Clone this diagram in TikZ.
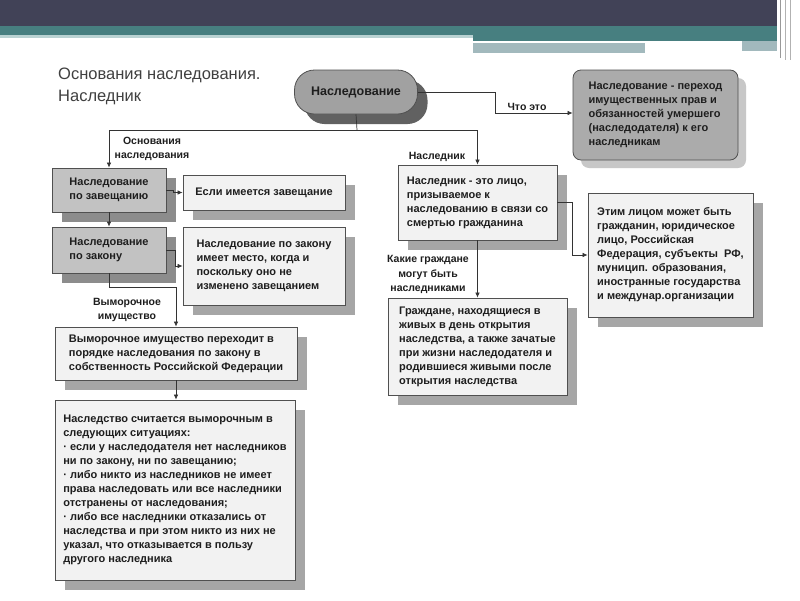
\documentclass[tikz,border=0pt]{standalone}
\usepackage{fontspec}
\setmainfont{Liberation Sans}
\usetikzlibrary{arrows.meta,shadows}
\definecolor{hdark}{HTML}{414257}
\definecolor{hteal}{HTML}{477F80}
\definecolor{hpale}{HTML}{B9D2D2}
\definecolor{hgray}{HTML}{A2B9BD}
\definecolor{ink}{HTML}{1E1E1E}
\definecolor{edge}{HTML}{505050}
\tikzset{
  x=1pt,y=-1pt,
  boxtext/.style={font=\fontsize{11}{14}\selectfont\bfseries, text=ink, align=left},
  lightbox/.style={boxtext, draw=edge, line width=0.8pt, fill=black!5, inner sep=4pt,
    general shadow={fill=black!35, shadow xshift=10pt, shadow yshift=-10pt}},
  graybox/.style={boxtext, draw=edge, line width=0.8pt, fill=black!24, inner sep=4pt,
    general shadow={fill=black!45, shadow xshift=10pt, shadow yshift=-10pt}},
  whatbox/.style={boxtext, draw=edge, line width=0.8pt, fill=black!33, rounded corners=8pt, inner sep=4pt,
    general shadow={fill=black!22, shadow xshift=8pt, shadow yshift=-8pt}},
  pillbox/.style={font=\fontsize{12.5}{14}\selectfont\bfseries, text=ink, draw=edge, line width=0.8pt,
    fill=black!37, rounded corners=20pt,
    general shadow={fill=black!62, shadow xshift=10pt, shadow yshift=-10pt}},
  lbl/.style={font=\fontsize{10.5}{14.5}\selectfont\bfseries, text=ink, align=center, inner sep=1pt},
  conn/.style={draw=black!80, line width=0.7pt},
  arr/.style={conn, -{Latex[length=5pt,width=4.5pt]}},
}
\begin{document}
\begin{tikzpicture}
\useasboundingbox (0,0) rectangle (800,600);
\fill[white] (0,0) rectangle (800,600);
% header
\fill[hdark] (0,0) rectangle (777,26);
\fill[hteal] (0,26) rectangle (777,35);
\fill[hteal] (473,35) rectangle (777,41);
\fill[hpale] (0,35) rectangle (473,38);
\fill[hgray] (473,43) rectangle (645,53);
\fill[hgray] (742,41) rectangle (777,51);
\draw[black!40, line width=0.8pt] (780,0) -- (780,58);
\draw[black!30, line width=0.8pt] (785,0) -- (785,60);
\draw[black!30, line width=0.8pt] (790,0) -- (790,60);

% title
\node[anchor=north west, align=left, text=black!75, font=\fontsize{16.5}{22}\selectfont, inner sep=0pt]
  (title) at (58,68) {Основания наследования.\\Наследник};

% nodes
\node[pillbox, minimum width=123pt, minimum height=44pt] (pill) at (356,92) {Наследование};
\node[whatbox, minimum width=165pt, minimum height=90pt] (what) at (655.5,115)
  {Наследование - переход\\имущественных прав и\\обязанностей умершего\\(наследодателя) к его\\наследникам};
\node[graybox, minimum width=114pt, minimum height=44pt] (will) at (109,190)
  {Наследование\\по завещанию};
\node[graybox, minimum width=114pt, minimum height=46pt] (law) at (109,250)
  {Наследование\\по закону};
\node[lightbox, minimum width=162pt, minimum height=35pt] (ifwill) at (264,192.5)
  {Если имеется завещание};
\node[lightbox, minimum width=162pt, minimum height=78pt] (lawtxt) at (264,266)
  {Наследование по закону\\имеет место, когда и\\поскольку оно не\\изменено завещанием};
\node[lightbox, minimum width=242pt, minimum height=53pt] (esch) at (176,353.5)
  {Выморочное имущество переходит в\\порядке наследования по закону в\\собственность Российской Федерации};
\node[lightbox, minimum width=240pt, minimum height=180pt] (sit) at (175,490)
  {Наследство считается выморочным в\\следующих ситуациях:\\· если у наследодателя нет наследников\\ни по закону, ни по завещанию;\\· либо никто из наследников не имеет\\права наследовать или все наследники\\отстранены от наследования;\\· либо все наследники отказались от\\наследства и при этом никто из них не\\указал, что отказывается в пользу\\другого наследника};
\node[lightbox, minimum width=159pt, minimum height=75pt] (heir) at (477.5,202.5)
  {Наследник - это лицо,\\призываемое к\\наследованию в связи со\\смертью гражданина};
\node[lightbox, minimum width=165pt, minimum height=124pt] (who) at (670.5,255)
  {Этим лицом может быть\\гражданин, юридическое\\лицо, Российская\\Федерация, субъекты~~РФ,\\муницип. образования,\\иностранные государства\\и междунар.организации};
\node[lightbox, minimum width=179pt, minimum height=97pt] (cit) at (477.5,346.5)
  {Граждане, находящиеся в\\живых в день открытия\\наследства, а также зачатые\\при жизни наследодателя и\\родившиеся живыми после\\открытия наследства};

% connectors
\coordinate (jn) at (357,130);
\coordinate (wt) at (495,92);
\draw[conn] (pill.south) -- (jn);
\draw[arr] (jn) -| (will.north);
\draw[arr] (jn) -| (heir.north);
\draw[arr] (pill.east |- wt) -- (wt) |- (what.west |- 0,113);
\draw[arr] (will.south) -- (law.north);
\draw[arr] (will.east) -- ++(7,0) |- (ifwill.west);
\draw[arr] (law.east) -- ++(9,0) |- (lawtxt.west);
\draw[arr] (law.south) -- ++(0,14) -| (esch.north);
\draw[arr] (esch.south) -- (esch.south |- sit.north);
\draw[arr] (heir.east) -- ++(15,0) |- (who.west);
\draw[arr] (heir.south) -- (cit.north);

% labels
\node[lbl] (l1) at (152,149) {Основания\\наследования};
\node[lbl, anchor=south] (l2) at (527,112) {Что это};
\node[lbl] (l3) at (437,157) {Наследник};
\node[lbl] (l4) at (428,274.5) {Какие граждане\\могут быть\\наследниками};
\node[lbl] (l5) at (127,310) {Выморочное\\имущество};
\end{tikzpicture}
\end{document}
